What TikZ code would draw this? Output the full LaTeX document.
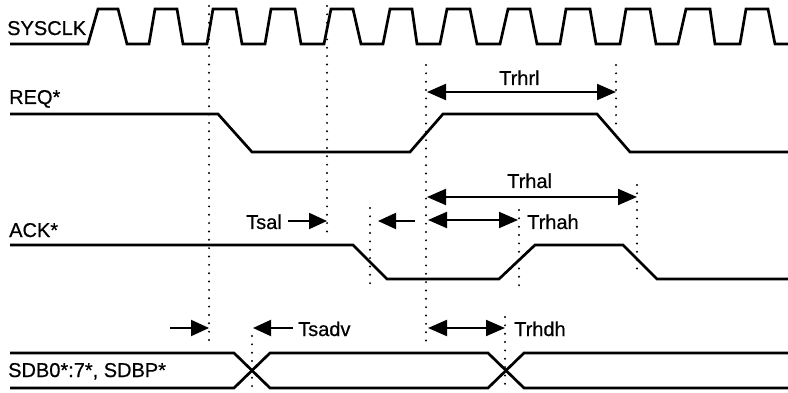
\documentclass[tikz,border=0pt]{standalone}
\usepackage{fontspec}
\setmainfont[BoldFont={Liberation Sans},BoldFeatures={FakeBold=0.6}]{Liberation Sans}
\usetikzlibrary{arrows.meta}
\tikzset{
  x=1pt,y=-1pt,
  signal/.style={line width=2.7pt,line join=miter},
  guide/.style={line width=2.2pt,line cap=round,dash pattern=on 0pt off 8.35pt},
  span/.style={line width=2pt,{Triangle[length=19pt,width=16pt]}-{Triangle[length=19pt,width=16pt]}},
  oneway/.style={line width=2pt,-{Triangle[length=18pt,width=16pt]}},
  lbl/.style={font=\fontsize{20}{22}\selectfont\bfseries,inner sep=0pt,text=black,anchor=base west},
}
\begin{document}
\begin{tikzpicture}
\useasboundingbox (0,0) rectangle (788,393);
% guides
\foreach \n/\x/\a/\b in {g1/209/6/344,g2/327/6/233,g3/252/336/388,g4/370/208/286,g5/426/65/344,g6/616/65/125,g7/637/185/276,g8/519/210/286,g9/505/317/388}{
  \coordinate (\n a) at (\x,\a);
  \coordinate (\n b) at (\x,\b);
  \draw[guide] (\n a) -- (\n b);
}
% clock
\draw[signal] (10,44) -- (88,44) -- (98,9) -- (118,9) -- (127,44)
 -- (149,44) -- (155,9) -- (177,9) -- (183,44)
 -- (207,44) -- (213,9) -- (236,9) -- (242,44)
 -- (265,44) -- (271,9) -- (295,9) -- (301,44)
 -- (324,44) -- (331,9) -- (353,9) -- (361,44)
 -- (383,44) -- (390,9) -- (412,9) -- (417,44)
 -- (440,44) -- (447,9) -- (470,9) -- (477,44)
 -- (500,44) -- (508,9) -- (530,9) -- (537,44)
 -- (560,44) -- (566,9) -- (590,9) -- (596,44)
 -- (620,44) -- (626,9) -- (650,9) -- (656,44)
 -- (678,44) -- (686,9) -- (710,9) -- (715,44)
 -- (740,44) -- (746,9) -- (768,9) -- (775,44) -- (788,44);
% REQ
\draw[signal] (10,114) -- (218,114) -- (252,152) -- (410,152) -- (443,114) -- (597,114) -- (630,152) -- (788,152);
% ACK
\draw[signal] (10,245) -- (353,245) -- (387,279) -- (499,279) -- (535,245) -- (623,245) -- (657,279) -- (788,279);
% SDB
\draw[signal] (10,353) -- (234,353) -- (270,388) -- (488,388) -- (524,353) -- (788,353);
\draw[signal] (10,388) -- (234,388) -- (270,353) -- (488,353) -- (524,388) -- (788,388);
% labels
\node[lbl] (sysclk) at (7,35) {SYSCLK};
\node[lbl] (req) at (9,104) {REQ*};
\node[lbl] (ack) at (9,237) {ACK*};
\node[lbl] (sdb) at (8,377) {SDB0*:7*, SDBP*};
\node[lbl] (trhrl) at (499,85) {Trhrl};
\node[lbl] (trhal) at (507,188) {Trhal};
\node[lbl] (tsal) at (246,229) {Tsal};
\node[lbl] (trhah) at (527,229) {Trhah};
\node[lbl] (tsadv) at (298,336) {Tsadv};
\node[lbl] (trhdh) at (514,336) {Trhdh};
% timing arrows
\coordinate (a1l) at (427,92); \coordinate (a1r) at (616,92);
\coordinate (a2l) at (427,197); \coordinate (a2r) at (637,197);
\coordinate (a3l) at (428,220); \coordinate (a3r) at (518,220);
\coordinate (a4l) at (428,328); \coordinate (a4r) at (505,328);
\draw[span] (a1l) -- (a1r);
\draw[span] (a2l) -- (a2r);
\draw[span] (a3l) -- (a3r);
\draw[span] (a4l) -- (a4r);
\coordinate (b1s) at (288,221); \coordinate (b1e) at (327,221);
\coordinate (b2s) at (415,221); \coordinate (b2e) at (378,221);
\coordinate (b3s) at (170,328); \coordinate (b3e) at (209,328);
\coordinate (b4s) at (293,328); \coordinate (b4e) at (253,328);
\draw[oneway] (b1s) -- (b1e);
\draw[oneway] (b2s) -- (b2e);
\draw[oneway] (b3s) -- (b3e);
\draw[oneway] (b4s) -- (b4e);
\end{tikzpicture}
\end{document}
